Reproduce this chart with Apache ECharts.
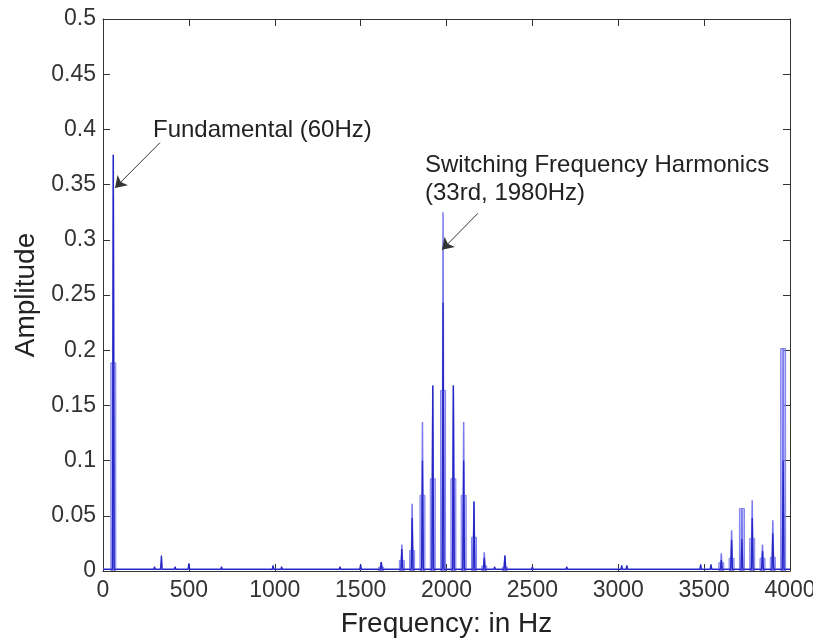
<!DOCTYPE html>
<html>
<head>
<meta charset="utf-8">
<script src="https://cdn.jsdelivr.net/npm/echarts@6/dist/echarts.min.js"></script>
<style>
  html, body { margin: 0; padding: 0; background: #fff; }
  #chart { width: 813px; height: 641px; }
</style>
</head>
<body>
<div id="chart"></div>
<script>
// harmonic lines (Hz)
const harmFreq = [60, 1620, 1740, 1800, 1860, 1920, 1980, 2040, 2100, 2160, 2220, 2340, 3600, 3660, 3720, 3780, 3840, 3900, 3960]
const harmPeak = [0.377, 0.008, 0.024, 0.061, 0.135, 0.168, 0.325, 0.168, 0.135, 0.063, 0.017, 0.014, 0.016, 0.037, 0.057, 0.064, 0.024, 0.046, 0.202]
const harmDark = [0.377, 0.008, 0.020, 0.048, 0.100, 0.168, 0.243, 0.168, 0.100, 0.063, 0.012, 0.014, 0.010, 0.028, 0.029, 0.048, 0.018, 0.034, 0.100]
const harmBand = [0.189, 0.004, 0.010, 0.019, 0.069, 0.084, 0.164, 0.084, 0.069, 0.031, 0.005, 0.004, 0.008, 0.012, 0.057, 0.030, 0.012, 0.013, 0.202]

// low-level noise spikes
const noiseFreq = [180, 240, 300, 340, 420, 500, 560, 690, 760, 860, 990, 1040, 1100, 1200, 1300, 1380, 1500, 1560, 2280, 2400, 2500, 2580, 2700, 2800, 2880, 3020, 3050, 3100, 3200, 3300, 3380, 3480, 3540]
const noiseAmp = [0.003, 0.003, 0.004, 0.014, 0.004, 0.007, 0.003, 0.004, 0.003, 0.003, 0.005, 0.004, 0.003, 0.003, 0.003, 0.004, 0.006, 0.003, 0.004, 0.003, 0.004, 0.003, 0.004, 0.003, 0.003, 0.005, 0.005, 0.003, 0.003, 0.003, 0.003, 0.006, 0.006]
const floorLevel = 0.0015

const xTicks = ['0', '500', '1000', '1500', '2000', '2500', '3000', '3500', '4000']
const yTicks = ['0', '0.05', '0.1', '0.15', '0.2', '0.25', '0.3', '0.35', '0.4', '0.45', '0.5']

// turn (freq, amp) pairs into a spike line sitting on the noise floor
const spikes = (freqs, amps) => {
  const pts = freqs.map((f, i) => [f, amps[i]]).sort((a, b) => a[0] - b[0])
  const out = [[0, floorLevel]]
  pts.forEach(p => {
    out.push([p[0] - 5, floorLevel], [p[0], p[1]], [p[0] + 5, floorLevel])
  })
  out.push([4000, floorLevel])
  return out
}

const darkLine = spikes(harmFreq.concat(noiseFreq), harmDark.concat(noiseAmp))
const lightLine = spikes(harmFreq, harmPeak)
const bandBars = harmFreq.map((f, i) => [f, harmBand[i]])

const fontFamily = 'Liberation Sans, Arial, sans-serif'

const note = (coord, text) => ({
  coord,
  symbol: 'circle',
  symbolSize: 0,
  label: {
    show: true, position: 'right', distance: 0, formatter: text,
    fontSize: 24, color: '#222', fontFamily
  }
})

const chart = echarts.init(document.getElementById('chart'))

const axisCommon = {
  type: 'value',
  axisLine: { show: true, onZero: false, lineStyle: { color: '#333', width: 1 } },
  axisTick: { show: true, inside: true, length: 7, lineStyle: { color: '#333' } },
  splitLine: { show: false }
}

chart.setOption({
  animation: false,
  textStyle: { fontFamily, color: '#222' },
  grid: { left: 103, right: 23, top: 19, bottom: 70, outerBoundsMode: 'none' },
  xAxis: [
    {
      ...axisCommon,
      min: 0, max: 4000, interval: 500, position: 'bottom',
      name: 'Frequency: in Hz', nameLocation: 'middle', nameGap: 39,
      nameTextStyle: { fontSize: 28, color: '#222' },
      axisLabel: { fontSize: 23, color: '#333', margin: 8, formatter: v => xTicks[v / 500] }
    },
    {
      ...axisCommon,
      min: 0, max: 4000, interval: 500, position: 'top',
      axisLabel: { show: false }
    }
  ],
  yAxis: [
    {
      ...axisCommon,
      min: 0, max: 0.5, interval: 0.05, position: 'left',
      name: 'Amplitude', nameLocation: 'middle', nameGap: 60, nameRotate: 90,
      nameTextStyle: { fontSize: 28, color: '#222' },
      axisLabel: { fontSize: 23, color: '#333', margin: 7, formatter: v => yTicks[Math.round(v / 0.05)] }
    },
    {
      ...axisCommon,
      min: 0, max: 0.5, interval: 0.05, position: 'right',
      axisLabel: { show: false }
    }
  ],
  series: [
    {
      name: 'band',
      type: 'bar',
      data: bandBars,
      barWidth: 6,
      itemStyle: { color: 'rgba(130,130,242,0.5)', borderColor: '#8080ec', borderWidth: 1 },
      silent: true,
      z: 1
    },
    {
      name: 'peak',
      type: 'line',
      data: lightLine,
      symbol: 'none',
      lineStyle: { color: '#7a7af0', width: 1.5 },
      silent: true,
      z: 2
    },
    {
      name: 'spectrum',
      type: 'line',
      data: darkLine,
      symbol: 'none',
      lineStyle: { color: '#2626c4', width: 1.3 },
      silent: true,
      z: 3,
      markLine: {
        silent: true,
        symbol: ['none', 'arrow'],
        symbolSize: 11,
        label: { show: false },
        lineStyle: { color: '#333', width: 1, type: 'solid' },
        data: [
          [{ coord: [332, 0.388] }, { coord: [70, 0.347] }],
          [{ coord: [2183, 0.324] }, { coord: [1974, 0.291] }]
        ]
      },
      markPoint: {
        silent: true,
        data: [
          note([291, 0.3995], 'Fundamental (60Hz)'),
          note([1875, 0.3678], 'Switching Frequency Harmonics'),
          note([1875, 0.3424], '(33rd, 1980Hz)')
        ]
      }
    }
  ]
})
</script>
</body>
</html>
